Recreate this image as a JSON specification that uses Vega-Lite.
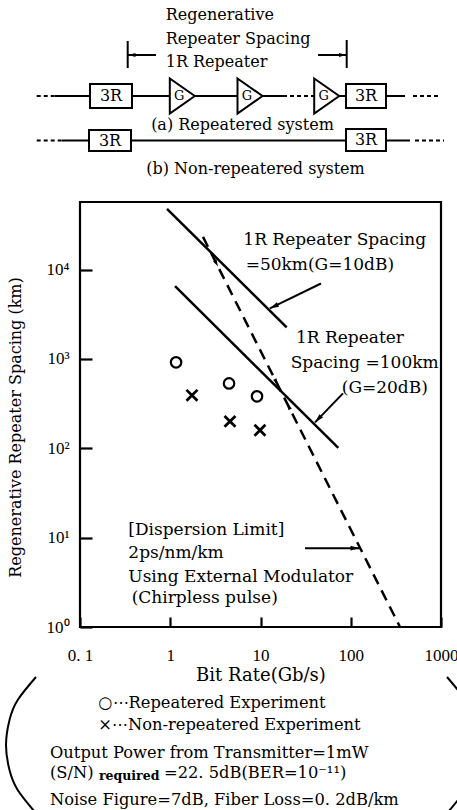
{
"$schema": "https://vega.github.io/schema/vega-lite/v6.json",
"width": 361, "height": 425, "autosize": "none",
"padding": {"left": 80, "top": 202, "right": 16, "bottom": 183},
"background": "white",
"config": {"view": {"stroke": "black", "strokeWidth": 2.2}, "font": "DejaVu Serif"},
"datasets": {
 "curves": [
  {"line": "50km", "B": 0.92, "L": 47800}, {"line": "50km", "B": 19.5, "L": 2256},
  {"line": "100km", "B": 1.13, "L": 6505}, {"line": "100km", "B": 72.8, "L": 101},
  {"line": "dispersion", "B": 2.306, "L": 23170}, {"line": "dispersion", "B": 351.3, "L": 1}
 ],
 "experiments": [
  {"type": "Repeatered", "B": 1.16, "L": 915}, {"type": "Repeatered", "B": 4.48, "L": 532}, {"type": "Repeatered", "B": 9.15, "L": 381},
  {"type": "Non-repeatered", "B": 1.74, "L": 391}, {"type": "Non-repeatered", "B": 4.59, "L": 200}, {"type": "Non-repeatered", "B": 9.86, "L": 159}
 ],
 "plotlabels": [
  {"text": "1R Repeater Spacing", "B": 6.45, "L": 21430},
  {"text": "=50km(G=10dB)", "B": 6.85, "L": 11260},
  {"text": "1R Repeater", "B": 24.7, "L": 1716},
  {"text": "Spacing =100km", "B": 21.6, "L": 901},
  {"text": "(G=20dB)", "B": 79.5, "L": 473},
  {"text": "[Dispersion Limit]", "B": 0.343, "L": 12.2},
  {"text": "2ps/nm/km", "B": 0.343, "L": 6.73},
  {"text": "Using External Modulator", "B": 0.343, "L": 3.63},
  {"text": "(Chirpless pulse)", "B": 0.374, "L": 2.11}
 ],
 "arrows": [
  {"arrow": "a1", "B": 46.8, "L": 6980, "B2": 12.7, "L2": 3670},
  {"arrow": "a2", "B": 82, "L": 412, "B2": 40.2, "L2": 195},
  {"arrow": "a3", "B": 31.1, "L": 7.63, "B2": 125, "L2": 7.63}
 ],
 "heads": [
  {"arrow": "a1", "B": 12.7, "L": 3670}, {"arrow": "a2", "B": 40.2, "L": 195}, {"arrow": "a3", "B": 125, "L": 7.63},
  {"arrow": "d1", "B": 3.38, "L": 10790}, {"arrow": "d2", "B": 15.63, "L": 505}, {"arrow": "d3", "B": 19.66, "L": 319}
 ],
 "wires": [
  {"segment": "omitted", "u": 3.67, "v": 9.6, "u2": 5.5, "v2": 9.6},
  {"segment": "fiber", "u": 5.5, "v": 9.6, "u2": 9.0, "v2": 9.6},
  {"segment": "fiber", "u": 13.2, "v": 9.6, "u2": 17.0, "v2": 9.6},
  {"segment": "fiber", "u": 19.5, "v": 9.6, "u2": 23.7, "v2": 9.6},
  {"segment": "fiber", "u": 26.3, "v": 9.6, "u2": 28.3, "v2": 9.6},
  {"segment": "omitted", "u": 28.3, "v": 9.6, "u2": 31.5, "v2": 9.6},
  {"segment": "fiber", "u": 33.8, "v": 9.6, "u2": 34.6, "v2": 9.6},
  {"segment": "fiber", "u": 38.6, "v": 9.6, "u2": 40.5, "v2": 9.6},
  {"segment": "omitted", "u": 41.3, "v": 9.6, "u2": 43.8, "v2": 9.6},
  {"segment": "omitted", "u": 3.67, "v": 14.05, "u2": 6.2, "v2": 14.05},
  {"segment": "fiber", "u": 6.2, "v": 14.05, "u2": 8.9, "v2": 14.05},
  {"segment": "fiber", "u": 13.1, "v": 14.05, "u2": 34.6, "v2": 14.05},
  {"segment": "fiber", "u": 38.6, "v": 14.05, "u2": 41.0, "v2": 14.05},
  {"segment": "omitted", "u": 41.5, "v": 14.05, "u2": 44.4, "v2": 14.05},
  {"segment": "span", "u": 12.77, "v": 4.1, "u2": 12.77, "v2": 6.8},
  {"segment": "span", "u": 34.67, "v": 4.0, "u2": 34.67, "v2": 6.8},
  {"segment": "span", "u": 12.8, "v": 5.5, "u2": 15.6, "v2": 5.5},
  {"segment": "span", "u": 31.8, "v": 5.5, "u2": 34.6, "v2": 5.5}
 ],
 "boxes": [
  {"u": 9.0, "v": 8.4, "u2": 13.2, "v2": 10.8},
  {"u": 34.6, "v": 8.4, "u2": 38.6, "v2": 10.8},
  {"u": 8.9, "v": 13.0, "u2": 13.1, "v2": 15.1},
  {"u": 34.6, "v": 12.9, "u2": 38.6, "v2": 15.1}
 ],
 "boxlabels": [
  {"text": "3R", "u": 11.1, "v": 9.6}, {"text": "3R", "u": 36.6, "v": 9.6},
  {"text": "3R", "u": 11.0, "v": 14.05}, {"text": "3R", "u": 36.6, "v": 14.0}
 ],
 "amps": [{"u": 18.23, "v": 9.6}, {"u": 25.0, "v": 9.6}, {"u": 32.67, "v": 9.6}],
 "spanheads": [{"dir": "left", "u": 12.85, "v": 5.5}, {"dir": "right", "u": 34.6, "v": 5.5}],
 "headings": [
  {"text": "Regenerative", "u": 16.57, "v": 1.5},
  {"text": "Repeater Spacing", "u": 16.57, "v": 3.85},
  {"text": "1R Repeater", "u": 16.57, "v": 6.2}
 ],
 "captions": [
  {"text": "(a) Repeatered system", "u": 24.25, "v": 12.5},
  {"text": "(b) Non-repeatered system", "u": 25.55, "v": 16.85}
 ],
 "notes": [
  {"role": "line", "text": "○⋯Repeatered Experiment", "u": 9.83, "v": 70.33},
  {"role": "line", "text": "×⋯Non-repeatered Experiment", "u": 9.83, "v": 72.5},
  {"role": "line", "text": "Output Power from Transmitter=1mW", "u": 5.0, "v": 75.3},
  {"role": "line", "text": "(S/N)", "u": 5.0, "v": 77.3},
  {"role": "sub", "text": "required", "u": 9.9, "v": 77.6},
  {"role": "line", "text": "=22. 5dB(BER=10⁻¹¹)", "u": 16.4, "v": 77.3},
  {"role": "line", "text": "Noise Figure=7dB, Fiber Loss=0. 2dB/km", "u": 5.0, "v": 80.0}
 ],
 "arcs": [
  {"side": "left", "i": 0, "u": 3.6, "v": 67.7}, {"side": "left", "i": 1, "u": 1.77, "v": 70.0},
  {"side": "left", "i": 2, "u": 0.95, "v": 72.0}, {"side": "left", "i": 3, "u": 0.6, "v": 74.5},
  {"side": "left", "i": 4, "u": 0.95, "v": 77.0}, {"side": "left", "i": 5, "u": 1.77, "v": 79.0},
  {"side": "left", "i": 6, "u": 3.49, "v": 81.2},
  {"side": "right", "i": 0, "u": 44.7, "v": 67.7}, {"side": "right", "i": 1, "u": 46.53, "v": 70.0},
  {"side": "right", "i": 2, "u": 47.35, "v": 72.0}, {"side": "right", "i": 3, "u": 47.7, "v": 74.5},
  {"side": "right", "i": 4, "u": 47.35, "v": 77.0}, {"side": "right", "i": 5, "u": 46.53, "v": 79.0},
  {"side": "right", "i": 6, "u": 44.81, "v": 81.2}
 ]
},
"layer": [
 {
  "encoding": {
   "x": {"field": "B", "type": "quantitative", "scale": {"type": "log", "domain": [0.1, 1000], "nice": false},
    "axis": {"title": "Bit Rate(Gb/s)", "values": [0.1, 1, 10, 100, 1000], "grid": false,
     "offset": -10, "domain": false, "ticks": true, "tickSize": 10, "tickWidth": 2.2, "tickColor": "black", "tickOpacity": 1,
     "labelExpr": "datum.value < 0.5 ? '0. 1' : format(datum.value, 'd')",
     "labelFont": "Liberation Serif", "labelFontSize": 17, "labelColor": "black", "labelPadding": 20,
     "labelFlush": false, "labelOverlap": false,
     "titleFont": "DejaVu Serif", "titleFontSize": 18, "titleFontWeight": "normal", "titleColor": "black",
     "titleBaseline": "top", "titleY": 49}},
   "y": {"field": "L", "type": "quantitative", "scale": {"type": "log", "domain": [1, 57000], "nice": false},
    "axis": {"title": "Regenerative Repeater Spacing (km)", "values": [1, 10, 100, 1000, 10000], "grid": false,
     "offset": -12, "domain": false, "ticks": true, "tickSize": 12, "tickWidth": 2.2, "tickColor": "black", "tickOpacity": 1,
     "labelExpr": "'10' + ['⁰','¹','²','³','⁴'][round(log(datum.value)/LN10)]",
     "labelFont": "Liberation Serif", "labelFontSize": 17, "labelColor": "black", "labelPadding": 11,
     "labelFlush": false, "labelOverlap": false,
     "titleFont": "DejaVu Serif", "titleFontSize": 16, "titleFontWeight": "normal", "titleColor": "black",
     "titleBaseline": "middle", "titleX": -77, "titleY": 225}}
  },
  "layer": [
   {"data": {"name": "curves"}, "transform": [{"filter": "datum.line != 'dispersion'"}],
    "mark": {"type": "line", "stroke": "black", "strokeWidth": 2.5},
    "encoding": {"detail": {"field": "line"}}},
   {"data": {"name": "curves"}, "transform": [{"filter": "datum.line == 'dispersion'"}],
    "mark": {"type": "line", "stroke": "black", "strokeWidth": 2.5, "strokeDash": [11, 7]}},
   {"data": {"name": "experiments"}, "transform": [{"filter": "datum.type == 'Repeatered'"}],
    "mark": {"type": "point", "shape": "circle", "filled": false, "stroke": "black", "strokeWidth": 2.2, "size": 110, "opacity": 1}},
   {"data": {"name": "experiments"}, "transform": [{"filter": "datum.type == 'Non-repeatered'"}],
    "mark": {"type": "point", "shape": "M-1,-1L1,1M-1,1L1,-1", "filled": false, "stroke": "black", "strokeWidth": 2.8, "size": 120, "opacity": 1}},
   {"data": {"name": "arrows"},
    "mark": {"type": "rule", "stroke": "black", "strokeWidth": 2},
    "encoding": {"x2": {"field": "B2"}, "y2": {"field": "L2"}}},
   {"data": {"name": "heads"}, "transform": [{"filter": "datum.arrow == 'a1'"}],
    "mark": {"type": "point", "shape": "M0,0L0.55,2L-0.55,2Z", "filled": true, "fill": "black", "size": 81, "angle": 244, "opacity": 1}},
   {"data": {"name": "heads"}, "transform": [{"filter": "datum.arrow == 'a2'"}],
    "mark": {"type": "point", "shape": "M0,0L0.55,2L-0.55,2Z", "filled": true, "fill": "black", "size": 81, "angle": 224, "opacity": 1}},
   {"data": {"name": "heads"}, "transform": [{"filter": "datum.arrow == 'a3'"}],
    "mark": {"type": "point", "shape": "M0,0L0.55,2L-0.55,2Z", "filled": true, "fill": "black", "size": 81, "angle": 90, "opacity": 1}},
   {"data": {"name": "heads"}, "transform": [{"filter": "datum.arrow == 'd1' || datum.arrow == 'd2'"}],
    "mark": {"type": "point", "shape": "M0,0L0.55,2L-0.55,2Z", "filled": true, "fill": "black", "size": 49, "angle": 153, "opacity": 1}},
   {"data": {"name": "heads"}, "transform": [{"filter": "datum.arrow == 'd3'"}],
    "mark": {"type": "point", "shape": "M0,0L0.55,2L-0.55,2Z", "filled": true, "fill": "black", "size": 49, "angle": 333, "opacity": 1}},
   {"data": {"name": "plotlabels"},
    "mark": {"type": "text", "align": "left", "baseline": "middle", "font": "DejaVu Serif", "fontSize": 17, "fill": "black"},
    "encoding": {"text": {"field": "text"}}}
  ]
 },
 {
  "encoding": {
   "x": {"field": "u", "type": "quantitative", "scale": {"domain": [8, 44.1], "nice": false, "zero": false}, "axis": null},
   "y": {"field": "v", "type": "quantitative", "scale": {"domain": [20.2, 62.7], "reverse": true, "nice": false, "zero": false}, "axis": null}
  },
  "layer": [
   {"data": {"name": "wires"}, "transform": [{"filter": "datum.segment != 'omitted'"}],
    "mark": {"type": "rule", "stroke": "black", "strokeWidth": 2},
    "encoding": {"x2": {"field": "u2"}, "y2": {"field": "v2"}}},
   {"data": {"name": "wires"}, "transform": [{"filter": "datum.segment == 'omitted'"}],
    "mark": {"type": "rule", "stroke": "black", "strokeWidth": 2, "strokeDash": [4, 3]},
    "encoding": {"x2": {"field": "u2"}, "y2": {"field": "v2"}}},
   {"data": {"name": "boxes"},
    "mark": {"type": "rect", "fill": "white", "stroke": "black", "strokeWidth": 2},
    "encoding": {"x2": {"field": "u2"}, "y2": {"field": "v2"}}},
   {"data": {"name": "boxlabels"},
    "mark": {"type": "text", "align": "center", "baseline": "middle", "font": "DejaVu Serif", "fontSize": 16, "fill": "black"},
    "encoding": {"text": {"field": "text"}}},
   {"data": {"name": "amps"},
    "mark": {"type": "point", "shape": "M-0.714,-1L0.714,0L-0.714,1Z", "filled": true, "fill": "white", "stroke": "black", "strokeWidth": 2, "size": 1225, "opacity": 1}},
   {"data": {"name": "amps"},
    "mark": {"type": "text", "text": "G", "dx": -3, "align": "center", "baseline": "middle", "font": "DejaVu Serif", "fontSize": 13, "fill": "black"}},
   {"data": {"name": "spanheads"}, "transform": [{"filter": "datum.dir == 'left'"}],
    "mark": {"type": "point", "shape": "M0,0L0.55,2L-0.55,2Z", "filled": true, "fill": "black", "size": 49, "angle": 270, "opacity": 1}},
   {"data": {"name": "spanheads"}, "transform": [{"filter": "datum.dir == 'right'"}],
    "mark": {"type": "point", "shape": "M0,0L0.55,2L-0.55,2Z", "filled": true, "fill": "black", "size": 49, "angle": 90, "opacity": 1}},
   {"data": {"name": "headings"},
    "mark": {"type": "text", "align": "left", "baseline": "middle", "font": "DejaVu Serif", "fontSize": 16, "fill": "black"},
    "encoding": {"text": {"field": "text"}}},
   {"data": {"name": "captions"},
    "mark": {"type": "text", "align": "center", "baseline": "middle", "font": "DejaVu Serif", "fontSize": 16, "fill": "black"},
    "encoding": {"text": {"field": "text"}}},
   {"data": {"name": "notes"}, "transform": [{"filter": "datum.role == 'line'"}],
    "mark": {"type": "text", "align": "left", "baseline": "middle", "font": "DejaVu Serif", "fontSize": 16.3, "fill": "black"},
    "encoding": {"text": {"field": "text"}}},
   {"data": {"name": "notes"}, "transform": [{"filter": "datum.role == 'sub'"}],
    "mark": {"type": "text", "align": "left", "baseline": "middle", "font": "DejaVu Serif", "fontSize": 12.5, "fontWeight": "bold", "fill": "black"},
    "encoding": {"text": {"field": "text"}}},
   {"data": {"name": "arcs"},
    "mark": {"type": "line", "stroke": "black", "strokeWidth": 2, "interpolate": "natural"},
    "encoding": {"detail": {"field": "side"}, "order": {"field": "i"}}}
  ]
 }
],
"resolve": {"scale": {"x": "independent", "y": "independent"}, "axis": {"x": "independent", "y": "independent"}}
}
